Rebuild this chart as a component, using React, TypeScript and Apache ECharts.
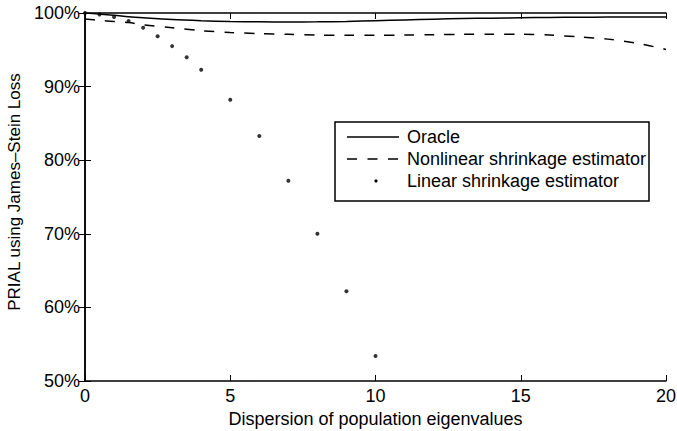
import React, { useEffect, useRef } from "react";
import * as echarts from "echarts";

const xOracle = [0, 0.5, 1, 1.5, 2, 3, 4, 5, 6, 7, 8, 9, 10, 11, 12, 13, 14, 15, 16, 17, 18, 19, 20];
const oracle = [100, 99.85, 99.7, 99.5, 99.35, 99.1, 98.95, 98.85, 98.8, 98.78, 98.8, 98.85, 98.95, 99.05, 99.15, 99.25, 99.3, 99.35, 99.4, 99.42, 99.45, 99.45, 99.45];
const nonlinear = [99.2, 99.0, 98.85, 98.7, 98.4, 98.0, 97.6, 97.35, 97.2, 97.1, 97.0, 96.97, 96.97, 97.0, 97.05, 97.1, 97.1, 97.1, 97.0, 96.75, 96.45, 95.9, 95.05];
const xLinear = [0, 0.5, 1, 1.5, 2, 2.5, 3, 3.5, 4, 5, 6, 7, 8, 9, 10];
const linear = [100, 99.8, 99.45, 98.9, 98.0, 96.85, 95.5, 94.0, 92.3, 88.2, 83.3, 77.2, 70.0, 62.2, 53.4];
const legendNames = ["Oracle", "Nonlinear shrinkage estimator", "Linear shrinkage estimator"];

const FONT = "Liberation Sans, Arial, Helvetica, sans-serif";
const FS = 18;

export default function App() {
  const ref = useRef<HTMLDivElement>(null);
  useEffect(() => {
    if (!ref.current) return;
    const chart = echarts.init(ref.current, null, { renderer: "svg" });
    const pair = (xs: number[], ys: number[]) => xs.map((x, i) => [x, ys[i]]);
    const axisCommon = {
      axisLine: { show: true, lineStyle: { color: "#000", width: 1.5 } },
      axisTick: { show: true, inside: true, length: 6, lineStyle: { color: "#000", width: 1 } },
      splitLine: { show: false },
    };
    const labelStyle = { color: "#000", fontSize: FS, fontFamily: FONT };
    const legX = 335, legY = 122, legW = 314, legH = 79;
    const rowY = [137, 159, 181];
    chart.setOption({
      animation: false,
      grid: { left: 85, right: 11, top: 13, bottom: 50, containLabel: false, outerBoundsMode: "none" },
      xAxis: [
        {
          type: "value", min: 0, max: 20, interval: 5, position: "bottom",
          ...axisCommon,
          axisLabel: { ...labelStyle, margin: 6 },
          name: "Dispersion of population eigenvalues",
          nameLocation: "middle", nameGap: 19,
          nameTextStyle: { ...labelStyle },
        },
        {
          type: "value", min: 0, max: 20, interval: 5, position: "top",
          ...axisCommon, axisLabel: { show: false },
        },
      ],
      yAxis: [
        {
          type: "value", min: 50, max: 100, interval: 10, position: "left",
          ...axisCommon,
          axisLabel: { ...labelStyle, margin: 5, formatter: (v: number) => v + "%" },
          name: "PRIAL using James\u2013Stein Loss",
          nameLocation: "middle", nameGap: 60,
          nameTextStyle: { ...labelStyle, fontSize: 17, padding: [0, 0, 0, 10] },
        },
        {
          type: "value", min: 50, max: 100, interval: 10, position: "right",
          ...axisCommon, axisLabel: { show: false },
        },
      ],
      series: [
        {
          name: legendNames[0], type: "line", data: pair(xOracle, oracle), smooth: 0.3,
          showSymbol: false, lineStyle: { color: "#000", width: 1.5 },
        },
        {
          name: legendNames[1], type: "line", data: pair(xOracle, nonlinear), smooth: 0.3,
          showSymbol: false, lineStyle: { color: "#000", width: 1.5, type: [10, 10] },
        },
        {
          name: legendNames[2], type: "scatter", data: pair(xLinear, linear),
          symbol: "circle", symbolSize: 4, itemStyle: { color: "#000" },
        },
      ],
      graphic: [
        { type: "rect", shape: { x: legX, y: legY, width: legW, height: legH }, style: { fill: "#fff", stroke: "#000", lineWidth: 1.5 }, z: 10 },
        { type: "line", shape: { x1: 347, y1: rowY[0], x2: 399, y2: rowY[0] }, style: { stroke: "#000", lineWidth: 1.5 }, z: 11 },
        { type: "line", shape: { x1: 347, y1: rowY[1], x2: 399, y2: rowY[1] }, style: { stroke: "#000", lineWidth: 1.5, lineDash: [10, 10.5] }, z: 11 },
        { type: "circle", shape: { cx: 376, cy: rowY[2], r: 1.6 }, style: { fill: "#000" }, z: 11 },
        ...legendNames.map((n, i) => ({
          type: "text", x: 407, y: rowY[i], z: 11,
          style: { text: n, fill: "#000", fontSize: FS, fontFamily: FONT, verticalAlign: "middle", align: "left" },
        })),
      ],
    });
    return () => chart.dispose();
  }, []);
  return <div ref={ref} style={{ width: 677, height: 431, position: "absolute", left: 0, top: 0, background: "#fff" }} />;
}
